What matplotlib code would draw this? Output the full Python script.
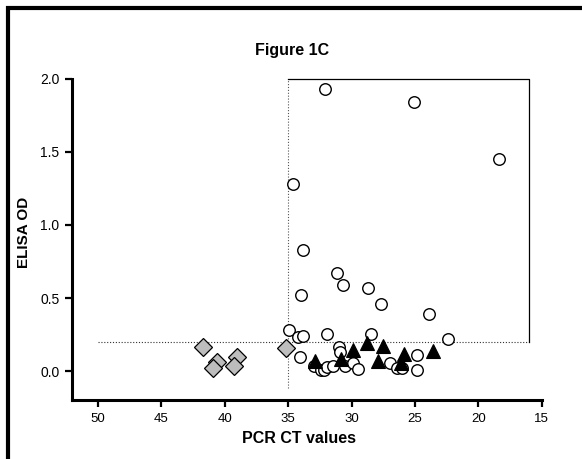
import matplotlib
matplotlib.use("Agg")
import matplotlib.pyplot as plt
from matplotlib.lines import Line2D

plt.rcParams['font.family'] = ['Liberation Sans', 'DejaVu Sans']

# Open circles: PCR CT value, ELISA OD
circle_ct = [32.1, 25.1, 18.4, 34.6, 33.8, 31.15, 30.7, 28.7, 34.0, 27.65, 23.9,
             34.9, 34.25, 33.8, 31.95, 28.45, 22.4, 34.1, 30.95, 30.9,
             33.0, 32.41, 32.2, 31.94, 31.47, 30.55, 29.85, 29.5, 26.95, 26.45,
             26.0, 24.8, 24.8]
circle_od = [1.93, 1.84, 1.45, 1.28, 0.83, 0.67, 0.59, 0.57, 0.52, 0.46, 0.39,
             0.285, 0.235, 0.245, 0.255, 0.255, 0.22, 0.10, 0.165, 0.13,
             0.04, 0.008, 0.012, 0.033, 0.04, 0.04, 0.058, 0.02, 0.058, 0.025,
             0.025, 0.115, 0.008]

# Filled triangles
tri_ct = [32.85, 30.82, 29.9, 28.8, 27.5, 27.94, 25.88, 26.1, 23.57]
tri_od = [0.07, 0.088, 0.147, 0.195, 0.175, 0.072, 0.12, 0.055, 0.138]

# Grey diamonds
dia_ct = [41.73, 40.6, 40.9, 39.05, 39.3, 35.15]
dia_od = [0.17, 0.063, 0.026, 0.097, 0.035, 0.158]

x_ticks = [50, 45, 40, 35, 30, 25, 20, 15]
y_ticks = [0.0, 0.5, 1.0, 1.5, 2.0]
ct_cutoff = 35
od_cutoff = 0.2

W, H = 582, 459
fig = plt.figure(figsize=(W / 100, H / 100), dpi=100)
ax = fig.add_axes([72 / W, 1 - 400 / H, (541.7 - 72) / W, (400 - 78.5) / H])

ax.set_xlim(52.05, 15)
ax.set_ylim(-0.195, 2.0)

# reference lines
ax.plot([ct_cutoff, ct_cutoff], [-0.11, 2.0], color='#555555', lw=0.8,
        ls=(0, (1, 1.6)), clip_on=False, zorder=1)
ax.plot([50, 16], [od_cutoff, od_cutoff], color='#333333', lw=0.8,
        ls=(0, (1, 1.6)), clip_on=False, zorder=1)
ax.plot([ct_cutoff, 16, 16], [2.0, 2.0, od_cutoff], color='black', lw=0.9,
        clip_on=False, zorder=1)

ax.plot(circle_ct, circle_od, 'o', ms=8.3, mfc='white', mec='black', mew=1.0,
        ls='none', clip_on=False, zorder=3)
ax.plot(tri_ct, tri_od, '^', ms=9.5, mfc='black', mec='black', mew=0.8,
        ls='none', clip_on=False, zorder=4)
ax.plot(dia_ct, dia_od, 'D', ms=9.0, mfc='#bdbdbd', mec='black', mew=0.9,
        ls='none', clip_on=False, zorder=3)

for s in ['top', 'right']:
    ax.spines[s].set_visible(False)
for s in ['left', 'bottom']:
    ax.spines[s].set_linewidth(2.2)

ax.set_xticks(x_ticks)
ax.set_xticklabels([str(v) for v in x_ticks])
ax.set_yticks(y_ticks)
ax.set_yticklabels([f"{v:.1f}" for v in y_ticks])
ax.tick_params(axis='both', direction='out', length=5, width=1.6, pad=4)
ax.tick_params(axis='x', labelsize=9.5)
ax.tick_params(axis='y', labelsize=10)

ax.set_xlabel('PCR CT values', fontsize=11.5, fontweight='bold')
ax.xaxis.set_label_coords((299.5 - 72) / 469.7, -0.095)
ax.set_ylabel('ELISA OD', fontsize=11, fontweight='bold')
ax.yaxis.set_label_coords(-0.087, 0.52)

fig.text(292 / W, 1 - 50 / H, 'Figure 1C', ha='center', va='center',
         fontsize=11.5, fontweight='bold')

# outer frame (top and left only, as in the reference)
fig.add_artist(Line2D([8 / W, 8 / W], [0, 1 - 6 / H], transform=fig.transFigure,
                      color='black', lw=3.0, solid_capstyle='butt'))
fig.add_artist(Line2D([6 / W, 1], [1 - 8 / H, 1 - 8 / H], transform=fig.transFigure,
                      color='black', lw=3.0, solid_capstyle='butt'))

fig.savefig('out.png', dpi=100)
